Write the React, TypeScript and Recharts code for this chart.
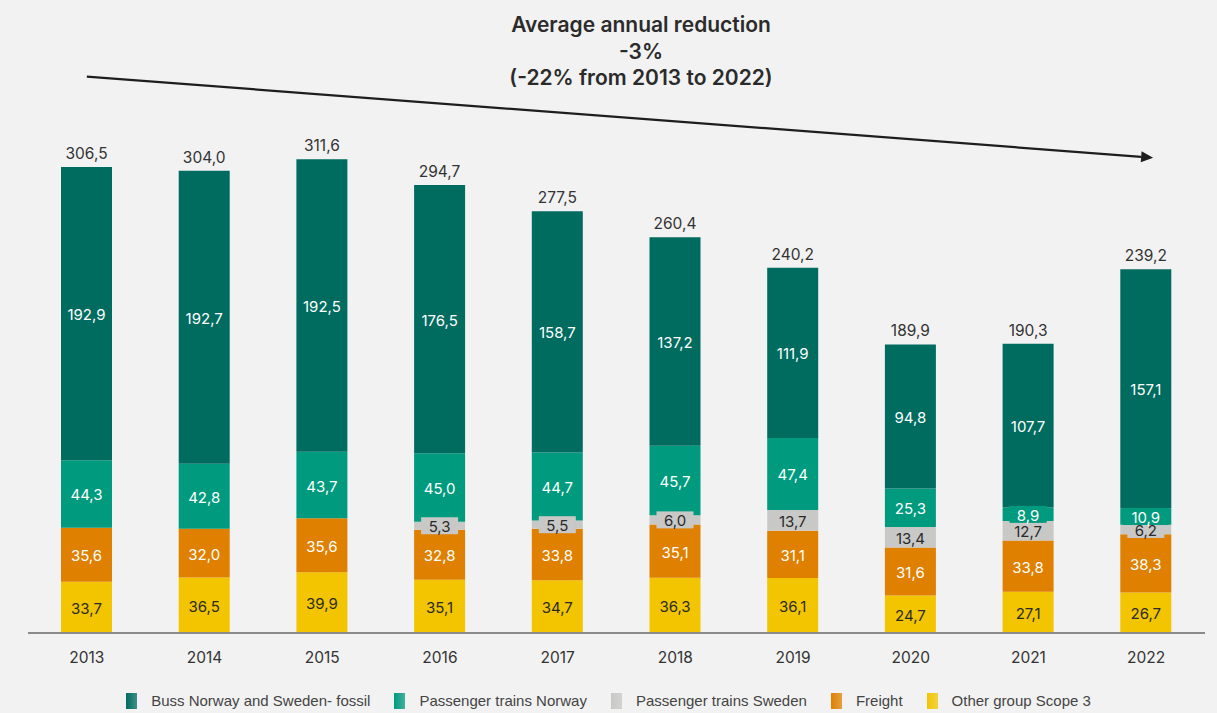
import React from 'react';
import { BarChart, Bar, XAxis, YAxis, LabelList, Legend, ReferenceLine } from 'recharts';

const years = ['2013', '2014', '2015', '2016', '2017', '2018', '2019', '2020', '2021', '2022'];
const bussFossil = [192.9, 192.7, 192.5, 176.5, 158.7, 137.2, 111.9, 94.8, 107.7, 157.1];
const trainsNorway = [44.3, 42.8, 43.7, 45.0, 44.7, 45.7, 47.4, 25.3, 8.9, 10.9];
const trainsSweden = [0.0, 0.0, 0.0, 5.3, 5.5, 6.0, 13.7, 13.4, 12.7, 6.2];
const freight = [35.6, 32.0, 35.6, 32.8, 33.8, 35.1, 31.1, 31.6, 33.8, 38.3];
const otherScope3 = [33.7, 36.5, 39.9, 35.1, 34.7, 36.3, 36.1, 24.7, 27.1, 26.7];
const totals = [306.5, 304.0, 311.6, 294.7, 277.5, 260.4, 240.2, 189.9, 190.3, 239.2];

// legend order as shown in the report (top of stack first)
const legendOrder = [
  'Buss Norway and Sweden- fossil',
  'Passenger trains Norway',
  'Passenger trains Sweden',
  'Freight',
  'Other group Scope 3',
];

// trend arrow endpoints (value axis)
const trendStart = 366;
const trendEnd = 313;

const data = years.map((year, i) => ({
  year,
  buss: bussFossil[i],
  norway: trainsNorway[i],
  sweden: trainsSweden[i],
  freight: freight[i],
  other: otherScope3[i],
}));

const FONT = 'Inter, "Noto Sans", sans-serif';
const fmt = (v: number) => v.toFixed(1).replace('.', ',');

const segLabel = (fill: string, textColor: string) => (props: any) => {
  const { x, y, width, height, value } = props;
  const cx = x + width / 2;
  const cy = y + height / 2;
  const txt = fmt(Number(value));
  const small = Math.abs(height) < 22;
  const w = txt.length * 9 + 10;
  return (
    <g>
      {small && <rect x={cx - w / 2} y={cy - 8.5} width={w} height={17} fill={fill} />}
      <text x={cx} y={cy + 1} textAnchor="middle" dominantBaseline="central" fill={textColor} fontSize={15} fontFamily={FONT}>
        {txt}
      </text>
    </g>
  );
};

const totalLabel = (props: any) => {
  const { x, y, width, index } = props;
  return (
    <text x={x + width / 2} y={y - 8} textAnchor="middle" fill="#333" fontSize={15.5} fontFamily={FONT}>
      {fmt(totals[index])}
    </text>
  );
};

const arrowShape = (props: any) => {
  const { x1, y1, x2, y2 } = props;
  const ang = Math.atan2(y2 - y1, x2 - x1);
  const tipX = x2 + 7 * Math.cos(ang);
  const tipY = y2 + 7 * Math.sin(ang);
  const bx = tipX - 12 * Math.cos(ang);
  const by = tipY - 12 * Math.sin(ang);
  const px = -Math.sin(ang) * 5.5;
  const py = Math.cos(ang) * 5.5;
  return (
    <g>
      <line x1={x1} y1={y1} x2={bx} y2={by} stroke="#1e1e1e" strokeWidth={2.2} />
      <polygon points={`${tipX},${tipY} ${bx + px},${by + py} ${bx - px},${by - py}`} fill="#1e1e1e" />
    </g>
  );
};

const renderLegend = (props: any) => {
  const items = [...(props.payload || [])].sort(
    (a: any, b: any) => legendOrder.indexOf(a.value) - legendOrder.indexOf(b.value)
  );
  return (
    <div style={{ display: 'flex', justifyContent: 'center', gap: 24, fontFamily: '"Liberation Sans", sans-serif', fontSize: 15, color: '#444' }}>
      {items.map((it: any) => (
        <div key={it.value} style={{ display: 'flex', alignItems: 'center', gap: 14 }}>
          <span style={{ display: 'inline-block', width: 11, height: 16, background: `linear-gradient(to right, ${it.color}, ${it.color}bb)` }} />
          <span>{it.value}</span>
        </div>
      ))}
    </div>
  );
};

export default function App() {
  return (
    <div style={{ position: 'absolute', left: 0, top: 0, width: 1217, height: 713, background: '#f2f2f2', overflow: 'hidden' }}>
      <div style={{ position: 'absolute', left: 391, top: 12, width: 500, textAlign: 'center', fontFamily: FONT, fontWeight: 600, fontSize: 21, lineHeight: '26.5px', color: '#2b2b2b' }}>
        <div>Average annual reduction</div>
        <div>-3%</div>
        <div>(-22% from 2013 to 2022)</div>
      </div>
      <BarChart width={1217} height={713} data={data} margin={{ top: 31, right: 12, bottom: 40, left: 28 }} barSize={51}>
        <XAxis
          dataKey="year"
          height={40}
          tickLine={false}
          axisLine={{ stroke: '#8a8a8a', strokeWidth: 2 }}
          tick={{ fill: '#333', fontSize: 15.5, fontFamily: FONT }}
          tickMargin={13}
        />
        <YAxis hide domain={[0, 396]} />
        <Legend
          layout="horizontal"
          verticalAlign="middle"
          align="center"
          content={renderLegend}
          wrapperStyle={{ top: 692, left: 0, width: 1217 }}
        />
        <ReferenceLine
          segment={[{ x: '2013', y: trendStart }, { x: '2022', y: trendEnd }]}
          ifOverflow="visible"
          shape={arrowShape}
        />
        <Bar dataKey="other" name="Other group Scope 3" stackId="a" fill="#f2c500" isAnimationActive={false}>
          <LabelList dataKey="other" content={segLabel('#f2c500', '#2a2a2a')} />
        </Bar>
        <Bar dataKey="freight" name="Freight" stackId="a" fill="#df8000" isAnimationActive={false}>
          <LabelList dataKey="freight" content={segLabel('#df8000', '#fff')} />
        </Bar>
        <Bar dataKey="sweden" name="Passenger trains Sweden" stackId="a" fill="#c8c8c6" isAnimationActive={false}>
          <LabelList dataKey="sweden" content={segLabel('#c8c8c6', '#2a2a2a')} />
        </Bar>
        <Bar dataKey="norway" name="Passenger trains Norway" stackId="a" fill="#009a7e" isAnimationActive={false}>
          <LabelList dataKey="norway" content={segLabel('#009a7e', '#fff')} />
        </Bar>
        <Bar dataKey="buss" name="Buss Norway and Sweden- fossil" stackId="a" fill="#006b5f" isAnimationActive={false}>
          <LabelList dataKey="buss" content={segLabel('#006b5f', '#fff')} />
          <LabelList dataKey="buss" content={totalLabel} />
        </Bar>
      </BarChart>
    </div>
  );
}
